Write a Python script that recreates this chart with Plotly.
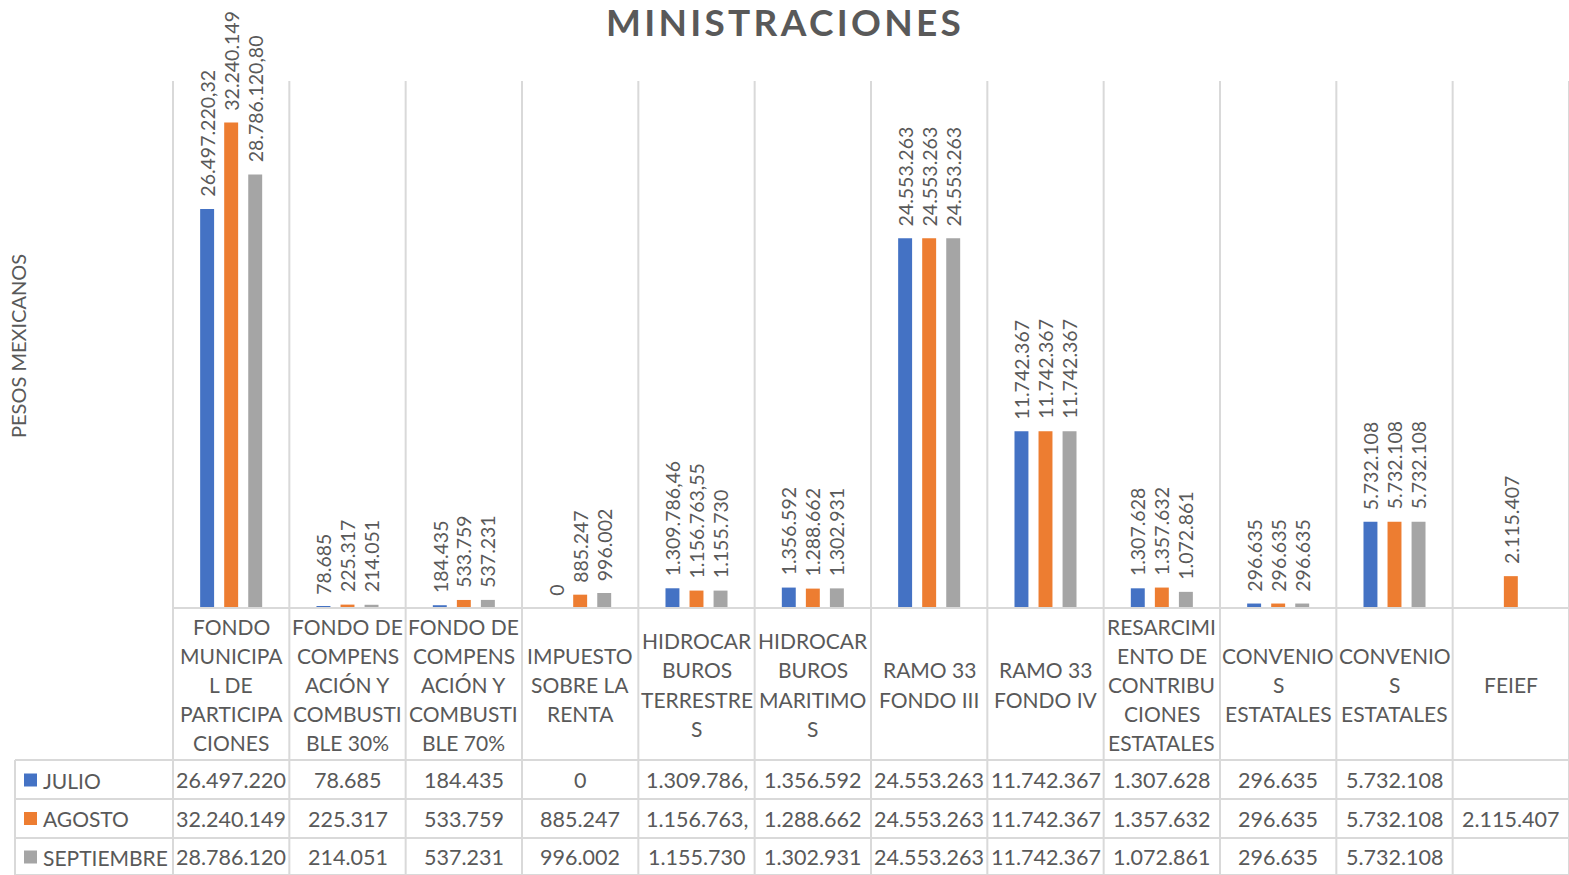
import plotly.graph_objects as go

categories = [
    "FONDO MUNICIPAL DE PARTICIPACIONES",
    "FONDO DE COMPENSACIÓN Y COMBUSTIBLE 30%",
    "FONDO DE COMPENSACIÓN Y COMBUSTIBLE 70%",
    "IMPUESTO SOBRE LA RENTA",
    "HIDROCARBUROS TERRESTRES",
    "HIDROCARBUROS MARITIMOS",
    "RAMO 33 FONDO III",
    "RAMO 33 FONDO IV",
    "RESARCIMIENTO DE CONTRIBUCIONES ESTATALES",
    "CONVENIOS ESTATALES",
    "CONVENIOS ESTATALES",
    "FEIEF",
]
header_lines = [
    ["FONDO", "MUNICIPA", "L DE", "PARTICIPA", "CIONES"],
    ["FONDO DE", "COMPENS", "ACIÓN Y", "COMBUSTI", "BLE 30%"],
    ["FONDO DE", "COMPENS", "ACIÓN Y", "COMBUSTI", "BLE 70%"],
    ["IMPUESTO", "SOBRE LA", "RENTA"],
    ["HIDROCAR", "BUROS", "TERRESTRE", "S"],
    ["HIDROCAR", "BUROS", "MARITIMO", "S"],
    ["RAMO 33", "FONDO III"],
    ["RAMO 33", "FONDO IV"],
    ["RESARCIMI", "ENTO DE", "CONTRIBU", "CIONES", "ESTATALES"],
    ["CONVENIO", "S", "ESTATALES"],
    ["CONVENIO", "S", "ESTATALES"],
    ["FEIEF"],
]

series_names = ["JULIO", "AGOSTO", "SEPTIEMBRE"]
julio = [26497220.32, 78685, 184435, 0, 1309786.46, 1356592, 24553263, 11742367, 1307628, 296635, 5732108, None]
agosto = [32240149, 225317, 533759, 885247, 1156763.55, 1288662, 24553263, 11742367, 1357632, 296635, 5732108, 2115407]
septiembre = [28786120.80, 214051, 537231, 996002, 1155730, 1302931, 24553263, 11742367, 1072861, 296635, 5732108, None]

julio_labels = ["26.497.220,32", "78.685", "184.435", "0", "1.309.786,46", "1.356.592", "24.553.263", "11.742.367", "1.307.628", "296.635", "5.732.108", ""]
agosto_labels = ["32.240.149", "225.317", "533.759", "885.247", "1.156.763,55", "1.288.662", "24.553.263", "11.742.367", "1.357.632", "296.635", "5.732.108", "2.115.407"]
septiembre_labels = ["28.786.120,80", "214.051", "537.231", "996.002", "1.155.730", "1.302.931", "24.553.263", "11.742.367", "1.072.861", "296.635", "5.732.108", ""]

julio_table = ["26.497.220", "78.685", "184.435", "0", "1.309.786,", "1.356.592", "24.553.263", "11.742.367", "1.307.628", "296.635", "5.732.108", ""]
agosto_table = ["32.240.149", "225.317", "533.759", "885.247", "1.156.763,", "1.288.662", "24.553.263", "11.742.367", "1.357.632", "296.635", "5.732.108", "2.115.407"]
septiembre_table = ["28.786.120", "214.051", "537.231", "996.002", "1.155.730", "1.302.931", "24.553.263", "11.742.367", "1.072.861", "296.635", "5.732.108", ""]

colors = ["#4472C4", "#ED7D31", "#A5A5A5"]
TXT = "#595959"
GRID = "#D9D9D9"
FONT = "Lato, Open Sans, Liberation Sans, sans-serif"

W, H = 1569, 875
L, R, T, B = 173, 0, 81, 267
plot_w = W - L - R
plot_h = H - T - B
base_y = H - B  # pixel of baseline
BARGAP, BARGROUPGAP = 0.38, 0.42
cat_w = plot_w / len(categories)
slot_w = cat_w * (1 - BARGAP) / 3


def px_x(x):
    return (x - L) / plot_w


def px_y(y):
    return (base_y - y) / plot_h


x_pos = list(range(len(categories)))

fig = go.Figure()
annotations = []
for s, (name, vals, labs, col) in enumerate(zip(series_names, [julio, agosto, septiembre],
                                                [julio_labels, agosto_labels, septiembre_labels], colors)):
    fig.add_trace(go.Bar(
        x=x_pos, y=vals, name=name, marker_color=col, marker_line_width=0,
        hovertext=categories,
    ))
    for i, (v, lab) in enumerate(zip(vals, labs)):
        if v is None or lab == "":
            continue
        annotations.append(dict(x=i, xref="x", y=v, yref="y", text=lab, showarrow=False,
                                textangle=-90, xanchor="center", yanchor="bottom",
                                xshift=(s - 1) * slot_w, yshift=10,
                                font=dict(family=FONT, size=19.5, color=TXT)))

shapes = []
# vertical separators
for i in range(len(categories) + 1):
    xp = L + i * cat_w
    shapes.append(dict(type="line", xref="paper", yref="paper",
                       x0=px_x(xp), x1=px_x(xp), y0=1, y1=px_y(H + 5),
                       line=dict(color=GRID, width=2)))
# left border of legend column
shapes.append(dict(type="line", xref="paper", yref="paper", x0=px_x(15), x1=px_x(15),
                   y0=px_y(760), y1=px_y(H + 5), line=dict(color=GRID, width=2)))
# horizontal lines
shapes.append(dict(type="line", xref="paper", yref="paper", x0=0, x1=1,
                   y0=0, y1=0, line=dict(color=GRID, width=2)))
for yy in [760, 799, 838, 875]:
    shapes.append(dict(type="line", xref="paper", yref="paper", x0=px_x(15), x1=1,
                       y0=px_y(yy), y1=px_y(yy), line=dict(color=GRID, width=2)))

# header lines
hdr_center = 684.5
line_h = 29.2
for i, lines in enumerate(header_lines):
    n = len(lines)
    for k, ln in enumerate(lines):
        ypix = hdr_center + (k - (n - 1) / 2) * line_h
        annotations.append(dict(x=i, xref="x", y=px_y(ypix), yref="paper", text=ln,
                                showarrow=False, xanchor="center", yanchor="middle",
                                font=dict(family=FONT, size=21, color=TXT)))
# table rows
row_y = [780, 818.5, 857]
for r, (name, vals, col) in enumerate(zip(series_names, [julio_table, agosto_table, septiembre_table], colors)):
    shapes.append(dict(type="rect", xref="paper", yref="paper", x0=px_x(24), x1=px_x(37),
                       y0=px_y(row_y[r] - 6.5), y1=px_y(row_y[r] + 6.5),
                       fillcolor=col, line=dict(width=0)))
    annotations.append(dict(x=px_x(41), xref="paper", y=px_y(row_y[r]), yref="paper", text=name,
                            showarrow=False, xanchor="left", yanchor="middle",
                            font=dict(family=FONT, size=21, color=TXT)))
    for i, v in enumerate(vals):
        if v:
            annotations.append(dict(x=i, xref="x", y=px_y(row_y[r]), yref="paper", text=v,
                                    showarrow=False, xanchor="center", yanchor="middle",
                                    font=dict(family=FONT, size=21.5, color=TXT)))
# y axis title
annotations.append(dict(x=px_x(18), xref="paper", y=px_y(346), yref="paper", text="PESOS MEXICANOS",
                        showarrow=False, textangle=-90, xanchor="center", yanchor="middle",
                        font=dict(family=FONT, size=20, color=TXT)))
# title
annotations.append(dict(x=px_x(785), xref="paper", y=px_y(22), yref="paper",
                        text="<b>MINISTRACIONES</b>", showarrow=False,
                        xanchor="center", yanchor="middle",
                        font=dict(family=FONT, size=37, color=TXT)))

fig.update_layout(
    width=W, height=H, margin=dict(l=L, r=R, t=T, b=B, autoexpand=False),
    paper_bgcolor="white", plot_bgcolor="white",
    barmode="group", bargap=BARGAP, bargroupgap=BARGROUPGAP,
    showlegend=False,
    xaxis=dict(range=[-0.5, len(categories) - 0.5], showticklabels=False, showgrid=False,
               zeroline=False, showline=False, ticks=""),
    yaxis=dict(range=[0, 35000000], showticklabels=False, showgrid=False, zeroline=False,
               showline=False, ticks=""),
    shapes=shapes, annotations=annotations,
)
post = (
    "document.body.style.margin='0';document.body.style.overflow='hidden';"
    "document.querySelectorAll('text.annotation-text').forEach(function(t){"
    "if(t.textContent==='MINISTRACIONES'){t.style.letterSpacing='3.3px';}});"
)
fig.write_html("out.html", config={"displayModeBar": False}, post_script=post)
